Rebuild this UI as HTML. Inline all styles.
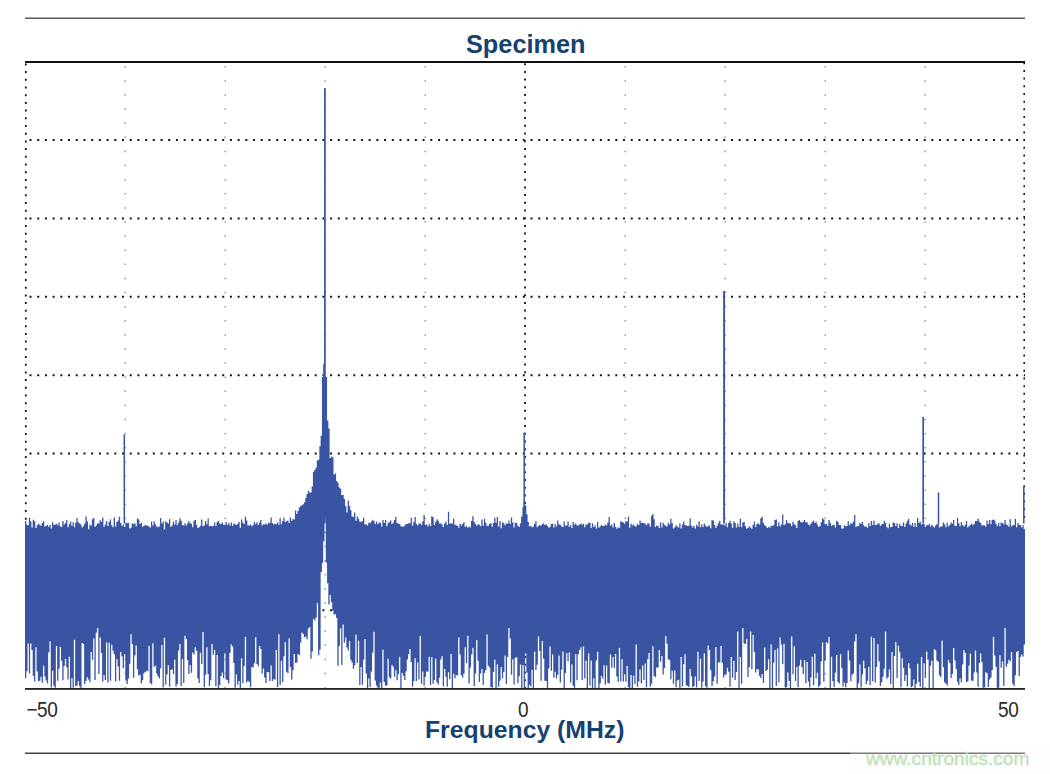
<!DOCTYPE html>
<html><head><meta charset="utf-8"><style>
html,body{margin:0;padding:0;background:#fff;}
body{width:1050px;height:774px;position:relative;overflow:hidden;font-family:"Liberation Sans",sans-serif;}
.t{position:absolute;white-space:nowrap;line-height:1;}
</style></head><body>
<svg width="1050" height="774" style="position:absolute;left:0;top:0">
<rect x="25" y="17.5" width="1000" height="1.5" fill="#5a5a5a"/>
<g stroke="#151515" stroke-width="2" stroke-dasharray="2 5.708" stroke-dashoffset="-4.5" fill="none"><line x1="25" y1="140.00" x2="1025" y2="140.00"/><line x1="25" y1="218.38" x2="1025" y2="218.38"/><line x1="25" y1="296.76" x2="1025" y2="296.76"/><line x1="25" y1="375.14" x2="1025" y2="375.14"/><line x1="25" y1="453.52" x2="1025" y2="453.52"/><line x1="25" y1="531.90" x2="1025" y2="531.90"/><line x1="25" y1="610.28" x2="1025" y2="610.28"/></g>
<g stroke="#9a9a9a" stroke-width="1.5" stroke-dasharray="1.5 12.61" stroke-dashoffset="-18.15" fill="none"><line x1="125.2" y1="62" x2="125.2" y2="688"/><line x1="225.2" y1="62" x2="225.2" y2="688"/><line x1="325.2" y1="62" x2="325.2" y2="688"/><line x1="425.2" y1="62" x2="425.2" y2="688"/><line x1="625.2" y1="62" x2="625.2" y2="688"/><line x1="725.2" y1="62" x2="725.2" y2="688"/><line x1="825.2" y1="62" x2="825.2" y2="688"/><line x1="925.2" y1="62" x2="925.2" y2="688"/></g>
<line x1="25.8" y1="62" x2="25.8" y2="522" stroke="#151515" stroke-width="1.8" stroke-dasharray="2 5.7" stroke-dashoffset="-63"/>
<line x1="525" y1="62" x2="525" y2="688" stroke="#151515" stroke-width="1.8" stroke-dasharray="2 5.7" stroke-dashoffset="-62.8"/>
<line x1="1024.2" y1="62" x2="1024.2" y2="522" stroke="#151515" stroke-width="1.6" stroke-dasharray="2 5.69" stroke-dashoffset="-69.4"/>
<path d="M25.00 521.1h1.29V678.1h-1.29zM26.29 524.7h1.29V671.3h-1.29zM27.57 525.3h1.29V643.5h-1.29zM28.86 517.7h1.29V673.4h-1.29zM30.14 521.5h1.29V643.4h-1.29zM31.43 527.6h1.29V650.2h-1.29zM32.71 519.7h1.29V675.7h-1.29zM34.00 521.2h1.29V681.6h-1.29zM35.28 527.9h1.29V647.2h-1.29zM36.57 525.4h1.29V671.6h-1.29zM37.85 523.8h1.29V680.9h-1.29zM39.14 524.8h1.29V680.7h-1.29zM40.42 525.7h1.29V676.7h-1.29zM41.71 523h1.29V682.7h-1.29zM42.99 521.3h1.29V665.7h-1.29zM44.28 526.5h1.29V676.6h-1.29zM45.57 525.7h1.29V680.6h-1.29zM46.85 524.8h1.29V683.4h-1.29zM48.14 526.7h1.29V652.4h-1.29zM49.42 525h1.29V641.2h-1.29zM50.71 528.5h1.29V687.5h-1.29zM51.99 522.3h1.29V670.7h-1.29zM53.28 525h1.29V685.7h-1.29zM54.56 524.6h1.29V687.8h-1.29zM55.85 523.7h1.29V646h-1.29zM57.13 525.3h1.29V680.7h-1.29zM58.42 522.6h1.29V668.8h-1.29zM59.70 526.6h1.29V646.8h-1.29zM60.99 527h1.29V660.7h-1.29zM62.28 521.1h1.29V680.3h-1.29zM63.56 524.5h1.29V666h-1.29zM64.85 523h1.29V659h-1.29zM66.13 520.1h1.29V667.3h-1.29zM67.42 527.3h1.29V679.4h-1.29zM68.70 524.2h1.29V656.8h-1.29zM69.99 521.5h1.29V688h-1.29zM71.27 525.7h1.29V678.2h-1.29zM72.56 522.2h1.29V687.7h-1.29zM73.84 527.3h1.29V639.8h-1.29zM75.13 522.4h1.29V686.2h-1.29zM76.41 518h1.29V685.3h-1.29zM77.70 522.2h1.29V680.9h-1.29zM78.98 523.6h1.29V686.2h-1.29zM80.27 524.5h1.29V688h-1.29zM81.56 527.4h1.29V642.9h-1.29zM82.84 525.9h1.29V643.9h-1.29zM84.13 523.6h1.29V683.9h-1.29zM85.41 516.5h1.29V681h-1.29zM86.70 521.6h1.29V677.3h-1.29zM87.98 529.3h1.29V679.6h-1.29zM89.27 524.4h1.29V682.2h-1.29zM90.55 525.8h1.29V651.9h-1.29zM91.84 519.2h1.29V659.8h-1.29zM93.12 518.1h1.29V638.6h-1.29zM94.41 526.9h1.29V680h-1.29zM95.69 525.2h1.29V632.7h-1.29zM96.98 523.3h1.29V628h-1.29zM98.26 523.4h1.29V674h-1.29zM99.55 520.3h1.29V637.4h-1.29zM100.84 521.8h1.29V653h-1.29zM102.12 517.4h1.29V681.7h-1.29zM103.41 526.8h1.29V675.1h-1.29zM104.69 524.5h1.29V679.9h-1.29zM105.98 521.1h1.29V642.5h-1.29zM107.26 526.1h1.29V682.4h-1.29zM108.55 522.1h1.29V642.7h-1.29zM109.83 519.4h1.29V680.7h-1.29zM111.12 525.3h1.29V644.7h-1.29zM112.40 527.3h1.29V650.8h-1.29zM113.69 517.6h1.29V654.3h-1.29zM114.97 526.6h1.29V681.6h-1.29zM116.26 522.1h1.29V659.2h-1.29zM117.54 520.4h1.29V666.6h-1.29zM118.83 516.7h1.29V680.8h-1.29zM120.12 523.1h1.29V652h-1.29zM121.40 526h1.29V656.6h-1.29zM122.69 524.6h1.29V668.2h-1.29zM123.97 526.9h1.29V654.2h-1.29zM125.26 522.4h1.29V680.6h-1.29zM126.54 523.3h1.29V684.1h-1.29zM127.83 522.8h1.29V678.8h-1.29zM129.11 528.4h1.29V663.7h-1.29zM130.40 527.8h1.29V634.3h-1.29zM131.68 523.5h1.29V644.2h-1.29zM132.97 524.2h1.29V677.7h-1.29zM134.25 523.3h1.29V655.3h-1.29zM135.54 526.2h1.29V645.6h-1.29zM136.83 518.4h1.29V669.3h-1.29zM138.11 519.6h1.29V675.6h-1.29zM139.40 524h1.29V674.8h-1.29zM140.68 522.7h1.29V683.5h-1.29zM141.97 526.8h1.29V680.2h-1.29zM143.25 526.1h1.29V673.2h-1.29zM144.54 524.9h1.29V672h-1.29zM145.82 525.6h1.29V670.7h-1.29zM147.11 525.8h1.29V671.2h-1.29zM148.39 526.4h1.29V645.7h-1.29zM149.68 527.6h1.29V682.9h-1.29zM150.96 521.4h1.29V684.4h-1.29zM152.25 525.4h1.29V643.3h-1.29zM153.53 521.3h1.29V666.8h-1.29zM154.82 524.3h1.29V665.6h-1.29zM156.11 526.4h1.29V673.4h-1.29zM157.39 527.2h1.29V676.2h-1.29zM158.68 526.2h1.29V678.4h-1.29zM159.96 518.1h1.29V668.5h-1.29zM161.25 523.6h1.29V645.1h-1.29zM162.53 521.6h1.29V687.6h-1.29zM163.82 529.6h1.29V637.7h-1.29zM165.10 521.3h1.29V684.7h-1.29zM166.39 522.6h1.29V674.4h-1.29zM167.67 523.6h1.29V665.2h-1.29zM168.96 519.3h1.29V686.7h-1.29zM170.24 527h1.29V670.1h-1.29zM171.53 525.4h1.29V669.3h-1.29zM172.81 521.5h1.29V674.2h-1.29zM174.10 524.6h1.29V659.8h-1.29zM175.39 519.9h1.29V686.4h-1.29zM176.67 525.2h1.29V684.1h-1.29zM177.96 522.4h1.29V650.5h-1.29zM179.24 518.2h1.29V644.1h-1.29zM180.53 520.7h1.29V686.2h-1.29zM181.81 524.9h1.29V659h-1.29zM183.10 525.4h1.29V682.9h-1.29zM184.38 523.3h1.29V635.7h-1.29zM185.67 525.4h1.29V639h-1.29zM186.95 523.5h1.29V660.2h-1.29zM188.24 521h1.29V673.9h-1.29zM189.52 523.2h1.29V665h-1.29zM190.81 523.8h1.29V672.7h-1.29zM192.10 527.3h1.29V652.5h-1.29zM193.38 520.7h1.29V654.5h-1.29zM194.67 520h1.29V647.3h-1.29zM195.95 524.8h1.29V650.8h-1.29zM197.24 527.9h1.29V678.5h-1.29zM198.52 527.2h1.29V683.1h-1.29zM199.81 525.7h1.29V652.7h-1.29zM201.09 519.4h1.29V664.1h-1.29zM202.38 526.3h1.29V632h-1.29zM203.66 525.5h1.29V687.2h-1.29zM204.95 521.1h1.29V674.7h-1.29zM206.23 524.2h1.29V647.3h-1.29zM207.52 518.6h1.29V673.9h-1.29zM208.80 526.2h1.29V686h-1.29zM210.09 525.7h1.29V680.3h-1.29zM211.38 526.2h1.29V643.9h-1.29zM212.66 525.9h1.29V654.8h-1.29zM213.95 522.5h1.29V649.9h-1.29zM215.23 526.1h1.29V686.2h-1.29zM216.52 522.3h1.29V655.1h-1.29zM217.80 520.9h1.29V688h-1.29zM219.09 523.5h1.29V684.9h-1.29zM220.37 524.2h1.29V675.9h-1.29zM221.66 522.6h1.29V672.5h-1.29zM222.94 524.8h1.29V678.2h-1.29zM224.23 524.8h1.29V653.4h-1.29zM225.51 522.1h1.29V679.6h-1.29zM226.80 524.9h1.29V680.3h-1.29zM228.08 523.1h1.29V683.4h-1.29zM229.37 525.5h1.29V652.8h-1.29zM230.66 522.5h1.29V644.4h-1.29zM231.94 525.9h1.29V646.5h-1.29zM233.23 523.5h1.29V663.1h-1.29zM234.51 524.3h1.29V687.8h-1.29zM235.80 525h1.29V674.6h-1.29zM237.08 524.1h1.29V684.7h-1.29zM238.37 522.1h1.29V681.1h-1.29zM239.65 527.7h1.29V688h-1.29zM240.94 519.6h1.29V658.3h-1.29zM242.22 522.6h1.29V683.2h-1.29zM243.51 524.1h1.29V666.3h-1.29zM244.79 516.8h1.29V636.9h-1.29zM246.08 520.6h1.29V682.5h-1.29zM247.37 525.5h1.29V680.7h-1.29zM248.65 525.4h1.29V681.9h-1.29zM249.94 524.4h1.29V687.3h-1.29zM251.22 526.2h1.29V666.9h-1.29zM252.51 525.1h1.29V667.5h-1.29zM253.79 522h1.29V663.3h-1.29zM255.08 524.3h1.29V637.3h-1.29zM256.36 522.3h1.29V664.1h-1.29zM257.65 524.9h1.29V666.2h-1.29zM258.93 522.5h1.29V645.9h-1.29zM260.22 520.1h1.29V649.1h-1.29zM261.50 525.6h1.29V673.5h-1.29zM262.79 524.3h1.29V668.5h-1.29zM264.07 524.6h1.29V677.6h-1.29zM265.36 523.4h1.29V682.9h-1.29zM266.65 524.7h1.29V672.2h-1.29zM267.93 522.5h1.29V672h-1.29zM269.22 523.2h1.29V681.1h-1.29zM270.50 517.5h1.29V665.6h-1.29zM271.79 523h1.29V681h-1.29zM273.07 524.5h1.29V679h-1.29zM274.36 523.8h1.29V679.8h-1.29zM275.64 524.3h1.29V649.9h-1.29zM276.93 522.3h1.29V687.1h-1.29zM278.21 524.7h1.29V634.2h-1.29zM279.50 518.2h1.29V685h-1.29zM280.78 524.2h1.29V661.1h-1.29zM282.07 521.1h1.29V682.2h-1.29zM283.35 517.5h1.29V656.2h-1.29zM284.64 521.9h1.29V642.2h-1.29zM285.93 521.2h1.29V671.8h-1.29zM287.21 520.6h1.29V673.1h-1.29zM288.50 523.1h1.29V638.5h-1.29zM289.78 517.6h1.29V666.9h-1.29zM291.07 520.7h1.29V679.4h-1.29zM292.35 519.1h1.29V670.3h-1.29zM293.64 519.6h1.29V653.9h-1.29zM294.92 510.4h1.29V663h-1.29zM296.21 514.1h1.29V662.6h-1.29zM297.49 511.1h1.29V653.9h-1.29zM298.78 507.6h1.29V654.9h-1.29zM300.06 506.1h1.29V642.5h-1.29zM301.35 505.2h1.29V632.6h-1.29zM302.63 504.2h1.29V633.9h-1.29zM303.92 502.2h1.29V637.2h-1.29zM305.21 498h1.29V636.5h-1.29zM306.49 494h1.29V639.3h-1.29zM307.78 490.7h1.29V628.5h-1.29zM309.06 492.5h1.29V627.3h-1.29zM310.35 492.6h1.29V658.8h-1.29zM311.63 486.4h1.29V651.4h-1.29zM312.92 471.7h1.29V619.1h-1.29zM314.20 470.1h1.29V620.6h-1.29zM315.49 467.7h1.29V617.5h-1.29zM316.77 460.4h1.29V603.1h-1.29zM318.06 459.7h1.29V655.3h-1.29zM319.34 446.3h1.29V649.7h-1.29zM320.63 435.7h1.29V571.9h-1.29zM321.92 377h1.29V562.7h-1.29zM323.20 364.3h1.29V541.3h-1.29zM324.49 377h1.29V517h-1.29zM325.77 377h1.29V562.7h-1.29zM327.06 420.4h1.29V583.3h-1.29zM328.34 428.4h1.29V604.4h-1.29zM329.63 457.9h1.29V595h-1.29zM330.91 456.6h1.29V602.3h-1.29zM332.20 457.3h1.29V610.4h-1.29zM333.48 474.5h1.29V614.5h-1.29zM334.77 473.6h1.29V614.1h-1.29zM336.05 481h1.29V617.9h-1.29zM337.34 482.7h1.29V665.7h-1.29zM338.62 487.4h1.29V646.1h-1.29zM339.91 488.8h1.29V628.2h-1.29zM341.20 495.1h1.29V665.1h-1.29zM342.48 495.1h1.29V624.6h-1.29zM343.77 499.1h1.29V642.7h-1.29zM345.05 506.2h1.29V637.5h-1.29zM346.34 512.4h1.29V647.5h-1.29zM347.62 500.4h1.29V650.5h-1.29zM348.91 506.1h1.29V641.1h-1.29zM350.19 510.2h1.29V659.8h-1.29zM351.48 516.5h1.29V662.5h-1.29zM352.76 516.8h1.29V668.8h-1.29zM354.05 512.6h1.29V665.2h-1.29zM355.33 520.8h1.29V634.8h-1.29zM356.62 516.4h1.29V663h-1.29zM357.90 519h1.29V640.7h-1.29zM359.19 521.4h1.29V685h-1.29zM360.48 521.9h1.29V667.1h-1.29zM361.76 521.1h1.29V684.8h-1.29zM363.05 517.7h1.29V659.8h-1.29zM364.33 524.4h1.29V639h-1.29zM365.62 524.3h1.29V673.6h-1.29zM366.90 525.4h1.29V688h-1.29zM368.19 522.6h1.29V678.5h-1.29zM369.47 523.3h1.29V687h-1.29zM370.76 521.4h1.29V671.4h-1.29zM372.04 519.7h1.29V652.8h-1.29zM373.33 521h1.29V631.7h-1.29zM374.61 523.9h1.29V680.4h-1.29zM375.90 521.4h1.29V685.6h-1.29zM377.19 523.9h1.29V687.6h-1.29zM378.47 522.8h1.29V688h-1.29zM379.76 522.5h1.29V682.4h-1.29zM381.04 526.4h1.29V688h-1.29zM382.33 520h1.29V649.7h-1.29zM383.61 523h1.29V682.1h-1.29zM384.90 520.1h1.29V685.5h-1.29zM386.18 526.2h1.29V685.4h-1.29zM387.47 523.2h1.29V658.8h-1.29zM388.75 522.1h1.29V677.2h-1.29zM390.04 520.4h1.29V678.7h-1.29zM391.32 524h1.29V664.9h-1.29zM392.61 522.7h1.29V666.7h-1.29zM393.89 519.9h1.29V676.8h-1.29zM395.18 516.8h1.29V670.3h-1.29zM396.47 522.8h1.29V680.3h-1.29zM397.75 524.1h1.29V674h-1.29zM399.04 523.8h1.29V657h-1.29zM400.32 526.3h1.29V687.9h-1.29zM401.61 526.5h1.29V672.9h-1.29zM402.89 526.8h1.29V675.7h-1.29zM404.18 525.6h1.29V679.9h-1.29zM405.46 523.7h1.29V671.2h-1.29zM406.75 524h1.29V659.6h-1.29zM408.03 523.2h1.29V654.3h-1.29zM409.32 523.2h1.29V649.1h-1.29zM410.60 517.8h1.29V662h-1.29zM411.89 525.8h1.29V686.7h-1.29zM413.17 522h1.29V681.2h-1.29zM414.46 517.1h1.29V658.3h-1.29zM415.75 523.8h1.29V680.9h-1.29zM417.03 525.4h1.29V662.4h-1.29zM418.32 523.7h1.29V679.5h-1.29zM419.60 523.2h1.29V636.1h-1.29zM420.89 525.1h1.29V684h-1.29zM422.17 521.2h1.29V671.4h-1.29zM423.46 515.1h1.29V685.8h-1.29zM424.74 524.8h1.29V677h-1.29zM426.03 524.4h1.29V671.5h-1.29zM427.31 526.6h1.29V671.8h-1.29zM428.60 523.7h1.29V656.7h-1.29zM429.88 526h1.29V685h-1.29zM431.17 516.3h1.29V657.3h-1.29zM432.46 517.2h1.29V683.7h-1.29zM433.74 524.9h1.29V679.9h-1.29zM435.03 522.1h1.29V658.8h-1.29zM436.31 519.3h1.29V682.3h-1.29zM437.60 520.8h1.29V684.6h-1.29zM438.88 523.5h1.29V677.8h-1.29zM440.17 523.2h1.29V659.4h-1.29zM441.45 524.8h1.29V656.2h-1.29zM442.74 526.9h1.29V686.6h-1.29zM444.02 523.5h1.29V669.1h-1.29zM445.31 521.7h1.29V676.8h-1.29zM446.59 524.9h1.29V686.8h-1.29zM447.88 511.7h1.29V672.3h-1.29zM449.16 523.7h1.29V679.3h-1.29zM450.45 523.1h1.29V654.1h-1.29zM451.74 523.7h1.29V687.9h-1.29zM453.02 518.8h1.29V673.8h-1.29zM454.31 524.8h1.29V678.3h-1.29zM455.59 525.2h1.29V675.1h-1.29zM456.88 526h1.29V675.4h-1.29zM458.16 527.8h1.29V637.4h-1.29zM459.45 523.5h1.29V654.6h-1.29zM460.73 525.5h1.29V675.3h-1.29zM462.02 524.1h1.29V677.6h-1.29zM463.30 522.2h1.29V673.5h-1.29zM464.59 527.1h1.29V647.3h-1.29zM465.87 526h1.29V663.3h-1.29zM467.16 527.7h1.29V635.7h-1.29zM468.44 526.6h1.29V683.4h-1.29zM469.73 527.4h1.29V667.4h-1.29zM471.02 521h1.29V654.6h-1.29zM472.30 516.3h1.29V647.7h-1.29zM473.59 522.1h1.29V686.3h-1.29zM474.87 524h1.29V673.4h-1.29zM476.16 525.7h1.29V640.1h-1.29zM477.44 524.2h1.29V660.8h-1.29zM478.73 524.7h1.29V682h-1.29zM480.01 526.2h1.29V673.6h-1.29zM481.30 519.6h1.29V669h-1.29zM482.58 525.7h1.29V685.1h-1.29zM483.87 518.8h1.29V673.1h-1.29zM485.15 522.7h1.29V670.1h-1.29zM486.44 526h1.29V634.4h-1.29zM487.72 525.7h1.29V665.8h-1.29zM489.01 524h1.29V667.6h-1.29zM490.30 523.1h1.29V687.1h-1.29zM491.58 526.7h1.29V687.7h-1.29zM492.87 522.9h1.29V672h-1.29zM494.15 517.8h1.29V659.7h-1.29zM495.44 522.7h1.29V688h-1.29zM496.72 517h1.29V664.6h-1.29zM498.01 526.6h1.29V686.8h-1.29zM499.29 521h1.29V680.7h-1.29zM500.58 528.3h1.29V667.1h-1.29zM501.86 522.3h1.29V678.5h-1.29zM503.15 523.2h1.29V672.1h-1.29zM504.43 525.2h1.29V655.6h-1.29zM505.72 523.3h1.29V684.2h-1.29zM507.01 523.8h1.29V656.9h-1.29zM508.29 520.6h1.29V628h-1.29zM509.58 523.9h1.29V638.5h-1.29zM510.86 517.4h1.29V674.7h-1.29zM512.15 522.4h1.29V659.2h-1.29zM513.43 527.4h1.29V684.6h-1.29zM514.72 523h1.29V657.8h-1.29zM516.00 522.9h1.29V657.2h-1.29zM517.29 525.7h1.29V683h-1.29zM518.57 527.1h1.29V676.3h-1.29zM519.86 523.2h1.29V664.5h-1.29zM521.14 516.5h1.29V688h-1.29zM522.43 507.2h1.29V665.1h-1.29zM523.71 500.4h1.29V688h-1.29zM525.00 505.4h1.29V653.5h-1.29zM526.29 514.3h1.29V672.5h-1.29zM527.57 521.9h1.29V687.9h-1.29zM528.86 526.2h1.29V684.8h-1.29zM530.14 525.9h1.29V686.6h-1.29zM531.43 527.3h1.29V669.7h-1.29zM532.71 526.4h1.29V688h-1.29zM534.00 524.1h1.29V651.4h-1.29zM535.28 521.2h1.29V670h-1.29zM536.57 527.2h1.29V664.8h-1.29zM537.85 525.9h1.29V636.6h-1.29zM539.14 525.1h1.29V650.9h-1.29zM540.42 525.8h1.29V680.7h-1.29zM541.71 523.9h1.29V641h-1.29zM542.99 523.6h1.29V658.7h-1.29zM544.28 525.1h1.29V680.8h-1.29zM545.57 524.6h1.29V681.1h-1.29zM546.85 525.9h1.29V688h-1.29zM548.14 527.7h1.29V668.5h-1.29zM549.42 526.9h1.29V646.4h-1.29zM550.71 523.9h1.29V670.8h-1.29zM551.99 523.8h1.29V654.6h-1.29zM553.28 527.6h1.29V677.5h-1.29zM554.56 524h1.29V671.8h-1.29zM555.85 526.5h1.29V678.6h-1.29zM557.13 520.4h1.29V674.8h-1.29zM558.42 524.4h1.29V655.5h-1.29zM559.70 524.8h1.29V682.4h-1.29zM560.99 526.6h1.29V669.7h-1.29zM562.28 527.1h1.29V651.6h-1.29zM563.56 521.5h1.29V688h-1.29zM564.85 525.4h1.29V673.1h-1.29zM566.13 525.5h1.29V653.3h-1.29zM567.42 521.5h1.29V661.3h-1.29zM568.70 526.8h1.29V652.6h-1.29zM569.99 525h1.29V682.5h-1.29zM571.27 528.1h1.29V664.6h-1.29zM572.56 522h1.29V685.8h-1.29zM573.84 524.8h1.29V688h-1.29zM575.13 523.4h1.29V654.2h-1.29zM576.41 525.6h1.29V680.2h-1.29zM577.70 525.3h1.29V654.1h-1.29zM578.98 524.8h1.29V650.1h-1.29zM580.27 523.4h1.29V647.3h-1.29zM581.56 524.7h1.29V679.9h-1.29zM582.84 523.8h1.29V646.6h-1.29zM584.13 527.2h1.29V678.4h-1.29zM585.41 524.4h1.29V660.7h-1.29zM586.70 524.5h1.29V688h-1.29zM587.98 522.8h1.29V653.6h-1.29zM589.27 522.8h1.29V685.4h-1.29zM590.55 528h1.29V660.4h-1.29zM591.84 523.3h1.29V688h-1.29zM593.12 527.1h1.29V678.2h-1.29zM594.41 525.3h1.29V688h-1.29zM595.69 528.5h1.29V660.5h-1.29zM596.98 521.7h1.29V651.8h-1.29zM598.26 527.8h1.29V688h-1.29zM599.55 526.4h1.29V683.5h-1.29zM600.84 525.1h1.29V676.1h-1.29zM602.12 526h1.29V678.6h-1.29zM603.41 526h1.29V665.3h-1.29zM604.69 524.4h1.29V684.7h-1.29zM605.98 525.5h1.29V665.6h-1.29zM607.26 522.5h1.29V683.1h-1.29zM608.55 517.1h1.29V683.4h-1.29zM609.83 525.8h1.29V654.6h-1.29zM611.12 524.5h1.29V667.8h-1.29zM612.40 527.4h1.29V657h-1.29zM613.69 522.9h1.29V667.7h-1.29zM614.97 526.7h1.29V653.9h-1.29zM616.26 528.7h1.29V676.6h-1.29zM617.54 527.3h1.29V682h-1.29zM618.83 528.1h1.29V647.7h-1.29zM620.12 521.6h1.29V681.5h-1.29zM621.40 521.7h1.29V658.9h-1.29zM622.69 522.5h1.29V681.4h-1.29zM623.97 523.7h1.29V674.3h-1.29zM625.26 520.9h1.29V681.7h-1.29zM626.54 521.5h1.29V666.1h-1.29zM627.83 516.7h1.29V687.3h-1.29zM629.11 527.7h1.29V688h-1.29zM630.40 523.7h1.29V675.1h-1.29zM631.68 525.5h1.29V688h-1.29zM632.97 524.4h1.29V675.8h-1.29zM634.25 526.2h1.29V684.1h-1.29zM635.54 526.6h1.29V644.6h-1.29zM636.83 523.9h1.29V686.8h-1.29zM638.11 524.9h1.29V681.6h-1.29zM639.40 520.5h1.29V669.6h-1.29zM640.68 523.1h1.29V683.3h-1.29zM641.97 522.5h1.29V665.4h-1.29zM643.25 523.3h1.29V680.1h-1.29zM644.54 523.4h1.29V663.4h-1.29zM645.82 525.2h1.29V687.3h-1.29zM647.11 523.5h1.29V659.2h-1.29zM648.39 523.5h1.29V653h-1.29zM649.68 526.8h1.29V686.6h-1.29zM650.96 515.8h1.29V683.7h-1.29zM652.25 514h1.29V646.2h-1.29zM653.53 519.3h1.29V676h-1.29zM654.82 527h1.29V677.3h-1.29zM656.11 525.5h1.29V667.5h-1.29zM657.39 526.1h1.29V667.6h-1.29zM658.68 528h1.29V650h-1.29zM659.96 522.4h1.29V661.7h-1.29zM661.25 527.5h1.29V656h-1.29zM662.53 522.7h1.29V674.6h-1.29zM663.82 524.8h1.29V668.2h-1.29zM665.10 525.8h1.29V636h-1.29zM666.39 526.5h1.29V643.8h-1.29zM667.67 522.7h1.29V659.3h-1.29zM668.96 524.5h1.29V660h-1.29zM670.24 518.8h1.29V679.2h-1.29zM671.53 523.1h1.29V670.7h-1.29zM672.81 528.5h1.29V683.8h-1.29zM674.10 527.4h1.29V670.5h-1.29zM675.39 525.2h1.29V687.3h-1.29zM676.67 526.5h1.29V680.6h-1.29zM677.96 527.4h1.29V679.7h-1.29zM679.24 523.5h1.29V688h-1.29zM680.53 528.5h1.29V656.9h-1.29zM681.81 524.4h1.29V686.6h-1.29zM683.10 521.6h1.29V664.3h-1.29zM684.38 524.9h1.29V654.3h-1.29zM685.67 525.3h1.29V685.3h-1.29zM686.95 525.9h1.29V686h-1.29zM688.24 525.7h1.29V686.9h-1.29zM689.52 518.5h1.29V669h-1.29zM690.81 525.5h1.29V676.5h-1.29zM692.10 527.6h1.29V687.3h-1.29zM693.38 525.7h1.29V686h-1.29zM694.67 528.4h1.29V676.6h-1.29zM695.95 524.8h1.29V687.5h-1.29zM697.24 526.6h1.29V651.8h-1.29zM698.52 521.3h1.29V680.9h-1.29zM699.81 527.3h1.29V658.8h-1.29zM701.09 524.3h1.29V687.8h-1.29zM702.38 527.1h1.29V681.6h-1.29zM703.66 523.4h1.29V653.2h-1.29zM704.95 525.5h1.29V685.9h-1.29zM706.23 526.9h1.29V687.7h-1.29zM707.52 526h1.29V645.6h-1.29zM708.80 525.4h1.29V650.1h-1.29zM710.09 528.3h1.29V670.2h-1.29zM711.38 520.3h1.29V686h-1.29zM712.66 520.6h1.29V681.3h-1.29zM713.95 525h1.29V676.4h-1.29zM715.23 528h1.29V646.9h-1.29zM716.52 525.8h1.29V683.8h-1.29zM717.80 523.3h1.29V662.4h-1.29zM719.09 520.7h1.29V662.2h-1.29zM720.37 524.4h1.29V646h-1.29zM721.66 524.6h1.29V662.7h-1.29zM722.94 524.5h1.29V677.5h-1.29zM724.23 525.4h1.29V674.7h-1.29zM725.51 523h1.29V674.3h-1.29zM726.80 527.2h1.29V667.7h-1.29zM728.08 523.1h1.29V671.7h-1.29zM729.37 520.7h1.29V686.8h-1.29zM730.66 523.6h1.29V656.9h-1.29zM731.94 527.7h1.29V677.7h-1.29zM733.23 521.6h1.29V661.1h-1.29zM734.51 523h1.29V679.9h-1.29zM735.80 527.6h1.29V671.9h-1.29zM737.08 523.6h1.29V631.4h-1.29zM738.37 526.9h1.29V687.9h-1.29zM739.65 518.7h1.29V656.9h-1.29zM740.94 527.2h1.29V683.8h-1.29zM742.22 522.6h1.29V628h-1.29zM743.51 521.9h1.29V643.5h-1.29zM744.79 526.2h1.29V643.9h-1.29zM746.08 528.8h1.29V639h-1.29zM747.37 528.1h1.29V677.1h-1.29zM748.65 526.2h1.29V667.1h-1.29zM749.94 527.5h1.29V631.4h-1.29zM751.22 528.7h1.29V669.2h-1.29zM752.51 525h1.29V635h-1.29zM753.79 521.4h1.29V652.1h-1.29zM755.08 526.9h1.29V672.5h-1.29zM756.36 524h1.29V669.1h-1.29zM757.65 523.3h1.29V669.5h-1.29zM758.93 524.7h1.29V675.7h-1.29zM760.22 518.2h1.29V677.9h-1.29zM761.50 516.8h1.29V673.9h-1.29zM762.79 522.9h1.29V682.9h-1.29zM764.07 525.3h1.29V647.4h-1.29zM765.36 526.2h1.29V671h-1.29zM766.65 528h1.29V669.7h-1.29zM767.93 526.7h1.29V659.2h-1.29zM769.22 527.8h1.29V688h-1.29zM770.50 525.5h1.29V644.6h-1.29zM771.79 526.1h1.29V688h-1.29zM773.07 525.2h1.29V662.7h-1.29zM774.36 520.1h1.29V650h-1.29zM775.64 519.4h1.29V685.9h-1.29zM776.93 526.3h1.29V648.6h-1.29zM778.21 522.2h1.29V682.2h-1.29zM779.50 526.5h1.29V637.5h-1.29zM780.78 524.5h1.29V644.8h-1.29zM782.07 514.6h1.29V664.3h-1.29zM783.35 525.1h1.29V643.7h-1.29zM784.64 524.3h1.29V687.6h-1.29zM785.93 519.9h1.29V687.3h-1.29zM787.21 522.9h1.29V672.5h-1.29zM788.50 523.3h1.29V681h-1.29zM789.78 523.6h1.29V688h-1.29zM791.07 526h1.29V636.6h-1.29zM792.35 521.8h1.29V674.3h-1.29zM793.64 524.3h1.29V646.2h-1.29zM794.92 525.3h1.29V681h-1.29zM796.21 527.9h1.29V667.1h-1.29zM797.49 520.9h1.29V687.3h-1.29zM798.78 520h1.29V665.5h-1.29zM800.06 522.1h1.29V659.8h-1.29zM801.35 522.4h1.29V667.2h-1.29zM802.63 521.7h1.29V674.3h-1.29zM803.92 519.9h1.29V660.3h-1.29zM805.21 522.3h1.29V683.2h-1.29zM806.49 522.5h1.29V661.9h-1.29zM807.78 524.6h1.29V681.5h-1.29zM809.06 525.6h1.29V687.4h-1.29zM810.35 523.8h1.29V677.5h-1.29zM811.63 521.8h1.29V656.7h-1.29zM812.92 520.4h1.29V685.2h-1.29zM814.20 522.9h1.29V653.8h-1.29zM815.49 521.8h1.29V678.4h-1.29zM816.77 524.6h1.29V672.8h-1.29zM818.06 527.1h1.29V687.3h-1.29zM819.34 526h1.29V685.3h-1.29zM820.63 522.2h1.29V661.4h-1.29zM821.92 518.2h1.29V642.5h-1.29zM823.20 519.6h1.29V681.7h-1.29zM824.49 524.3h1.29V660.4h-1.29zM825.77 523.8h1.29V642.2h-1.29zM827.06 525.8h1.29V643.4h-1.29zM828.34 520.1h1.29V637.1h-1.29zM829.63 522.8h1.29V687.8h-1.29zM830.91 525.8h1.29V656.7h-1.29zM832.20 525.1h1.29V680.9h-1.29zM833.48 524.8h1.29V686.9h-1.29zM834.77 527.4h1.29V672.7h-1.29zM836.05 520.8h1.29V655.1h-1.29zM837.34 522.1h1.29V682.1h-1.29zM838.62 525.1h1.29V683.5h-1.29zM839.91 525.1h1.29V654.3h-1.29zM841.20 528.5h1.29V668.3h-1.29zM842.48 528.4h1.29V686.4h-1.29zM843.77 525.2h1.29V682.4h-1.29zM845.05 526.3h1.29V687.2h-1.29zM846.34 525.9h1.29V683.1h-1.29zM847.62 521.2h1.29V650.6h-1.29zM848.91 525.3h1.29V660.4h-1.29zM850.19 523.3h1.29V681.2h-1.29zM851.48 523.7h1.29V674.7h-1.29zM852.76 521.6h1.29V673.5h-1.29zM854.05 515h1.29V641.4h-1.29zM855.33 526.9h1.29V634.3h-1.29zM856.62 526h1.29V688h-1.29zM857.90 526.2h1.29V683.2h-1.29zM859.19 523.1h1.29V664.6h-1.29zM860.48 524.1h1.29V687.5h-1.29zM861.76 521.9h1.29V674.6h-1.29zM863.05 525.3h1.29V660.8h-1.29zM864.33 526.8h1.29V668.5h-1.29zM865.62 526.4h1.29V684.2h-1.29zM866.90 527.7h1.29V680.7h-1.29zM868.19 522.9h1.29V667h-1.29zM869.47 525.9h1.29V684.9h-1.29zM870.76 521.1h1.29V636.7h-1.29zM872.04 524.9h1.29V681.3h-1.29zM873.33 520.8h1.29V637.9h-1.29zM874.61 524.9h1.29V682.6h-1.29zM875.90 525h1.29V667h-1.29zM877.19 523.6h1.29V644.3h-1.29zM878.47 523.6h1.29V661.4h-1.29zM879.76 526h1.29V686.1h-1.29zM881.04 524.6h1.29V682.3h-1.29zM882.33 524.1h1.29V676.8h-1.29zM883.61 520.8h1.29V668.7h-1.29zM884.90 523.1h1.29V631.6h-1.29zM886.18 526.9h1.29V678.7h-1.29zM887.47 528.3h1.29V676.9h-1.29zM888.75 523.8h1.29V669.6h-1.29zM890.04 527.1h1.29V684h-1.29zM891.32 527.1h1.29V652h-1.29zM892.61 522.4h1.29V688h-1.29zM893.89 523h1.29V655.9h-1.29zM895.18 525.9h1.29V641.9h-1.29zM896.47 523.3h1.29V677.9h-1.29zM897.75 528h1.29V645.8h-1.29zM899.04 523.8h1.29V651.7h-1.29zM900.32 526.1h1.29V687.2h-1.29zM901.61 526h1.29V658.3h-1.29zM902.89 522.4h1.29V668h-1.29zM904.18 527h1.29V681h-1.29zM905.46 523.5h1.29V675h-1.29zM906.75 520.8h1.29V686.5h-1.29zM908.03 519h1.29V663.3h-1.29zM909.32 524.4h1.29V668.5h-1.29zM910.60 525.5h1.29V687.2h-1.29zM911.89 523h1.29V686.3h-1.29zM913.17 526.8h1.29V679.5h-1.29zM914.46 522.9h1.29V688h-1.29zM915.75 526.9h1.29V683.8h-1.29zM917.03 518h1.29V663.8h-1.29zM918.32 522.9h1.29V682h-1.29zM919.60 521.6h1.29V686.8h-1.29zM920.89 524.4h1.29V656.9h-1.29zM922.17 523.7h1.29V688h-1.29zM923.46 524h1.29V663.3h-1.29zM924.74 526.9h1.29V678h-1.29zM926.03 525.2h1.29V651.5h-1.29zM927.31 525.3h1.29V659.7h-1.29zM928.60 523.9h1.29V688h-1.29zM929.88 526.6h1.29V665.8h-1.29zM931.17 524.7h1.29V660.7h-1.29zM932.46 526.2h1.29V688h-1.29zM933.74 527.5h1.29V649.2h-1.29zM935.03 525.4h1.29V650.2h-1.29zM936.31 524.3h1.29V660.4h-1.29zM937.60 522.9h1.29V661.7h-1.29zM938.88 527.5h1.29V675.3h-1.29zM940.17 526.3h1.29V677.3h-1.29zM941.45 526.5h1.29V640.4h-1.29zM942.74 522.5h1.29V667.2h-1.29zM944.02 524.3h1.29V682.2h-1.29zM945.31 527.2h1.29V683.7h-1.29zM946.59 522.7h1.29V685.4h-1.29zM947.88 526.6h1.29V660h-1.29zM949.16 524.9h1.29V663h-1.29zM950.45 522.4h1.29V677.9h-1.29zM951.74 523.8h1.29V673.9h-1.29zM953.02 519.9h1.29V648h-1.29zM954.31 525.7h1.29V660.6h-1.29zM955.59 526.1h1.29V669h-1.29zM956.88 517.7h1.29V681.7h-1.29zM958.16 523.2h1.29V685.1h-1.29zM959.45 526.3h1.29V678.3h-1.29zM960.73 522.2h1.29V682.3h-1.29zM962.02 524.9h1.29V664.6h-1.29zM963.30 526.6h1.29V650.2h-1.29zM964.59 525.1h1.29V652.9h-1.29zM965.87 521h1.29V682.2h-1.29zM967.16 527.4h1.29V681.2h-1.29zM968.44 526.2h1.29V665.6h-1.29zM969.73 525.1h1.29V653.6h-1.29zM971.02 523.5h1.29V680.5h-1.29zM972.30 525.2h1.29V680.9h-1.29zM973.59 524h1.29V672.5h-1.29zM974.87 520.9h1.29V650.4h-1.29zM976.16 521h1.29V672.5h-1.29zM977.44 518.7h1.29V686.7h-1.29zM978.73 521.8h1.29V663.1h-1.29zM980.01 522.7h1.29V653.6h-1.29zM981.30 525.5h1.29V662h-1.29zM982.58 525.2h1.29V687.8h-1.29zM983.87 525.3h1.29V687.4h-1.29zM985.15 526.7h1.29V672.2h-1.29zM986.44 520.4h1.29V673.3h-1.29zM987.72 523.9h1.29V686.9h-1.29zM989.01 520h1.29V679.4h-1.29zM990.30 524.2h1.29V677.6h-1.29zM991.58 520h1.29V670.1h-1.29zM992.87 519.6h1.29V637h-1.29zM994.15 520.6h1.29V655.4h-1.29zM995.44 523.9h1.29V666.7h-1.29zM996.72 526.3h1.29V688h-1.29zM998.01 523.1h1.29V687.8h-1.29zM999.29 526.2h1.29V655.3h-1.29zM1000.58 522.6h1.29V667.8h-1.29zM1001.86 523.1h1.29V661.4h-1.29zM1003.15 524.5h1.29V685.7h-1.29zM1004.43 519.9h1.29V628h-1.29zM1005.72 524.4h1.29V666.7h-1.29zM1007.01 525.2h1.29V663.7h-1.29zM1008.29 526.7h1.29V659.7h-1.29zM1009.58 519.2h1.29V661.3h-1.29zM1010.86 526.5h1.29V652.3h-1.29zM1012.15 525.1h1.29V683.8h-1.29zM1013.43 525.2h1.29V685.9h-1.29zM1014.72 519h1.29V675.2h-1.29zM1016.00 527.2h1.29V652h-1.29zM1017.29 523h1.29V651h-1.29zM1018.57 525h1.29V676h-1.29zM1019.86 524.9h1.29V656.9h-1.29zM1021.14 527.4h1.29V654.4h-1.29zM1022.43 525.3h1.29V656.5h-1.29zM1023.71 528.9h1.29V644.4h-1.29z" fill="#3854a3"/>
<path d="M123.55 434.5h1.5V523.5h-1.5zM523.45 432.5h1.5V523.5h-1.5zM723.15 291h1.9V523.5h-1.9zM922.35 417h1.7V523.5h-1.7zM937.75 492.5h1.5V523.5h-1.5zM1023.05 486h1.5V523.5h-1.5zM324.05 88h1.7V523.5h-1.7z" fill="#3854a3"/>
<rect x="25" y="61" width="1000" height="2" fill="#111"/>
<rect x="25" y="688" width="1000" height="1.8" fill="#222"/>
<rect x="25" y="752.5" width="1000" height="1.5" fill="#444"/>
</svg>
<div class="t" style="left:466px;top:32px;font-size:25.3px;font-weight:bold;color:#15426f">Specimen</div>
<div class="t" style="left:26.5px;top:699px;font-size:19px;color:#2a2a2a;letter-spacing:-0.5px;transform:scaleY(1.14);transform-origin:0 0">&minus;50</div>
<div class="t" style="left:518px;top:699px;font-size:19px;color:#2a2a2a;transform:scaleY(1.14);transform-origin:0 0">0</div>
<div class="t" style="left:998px;top:699px;font-size:19px;color:#2a2a2a;letter-spacing:-0.4px;transform:scaleY(1.14);transform-origin:0 0">50</div>
<div class="t" style="left:425px;top:718px;font-size:24.75px;font-weight:bold;color:#15426f">Frequency (MHz)</div>
<div style="position:absolute;left:850px;top:744px;width:200px;height:30px;background:rgba(250,250,250,0.3)"></div>
<div class="t" style="left:866px;top:749px;font-size:19.1px;color:#bfe2b8;-webkit-text-stroke:0.35px #bfe2b8">www.cntronics.com</div>
</body></html>
